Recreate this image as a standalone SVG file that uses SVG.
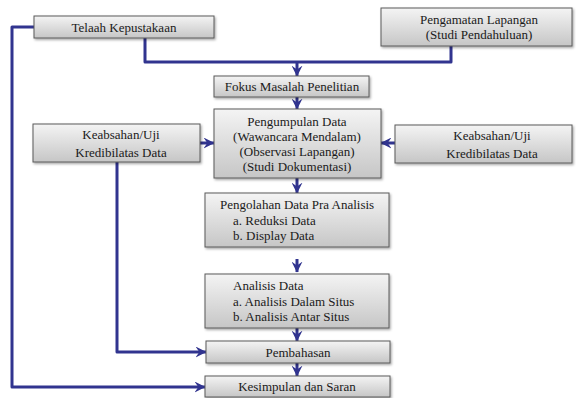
<svg xmlns="http://www.w3.org/2000/svg" width="576" height="398" viewBox="0 0 576 398">
<defs>
<linearGradient id="g" x1="0" y1="0" x2="0" y2="1">
<stop offset="0" stop-color="#f4f4f4"/>
<stop offset="1" stop-color="#c6c6c6"/>
</linearGradient>
<filter id="sh" x="-10%" y="-20%" width="120%" height="150%">
<feDropShadow dx="1.2" dy="1.5" stdDeviation="0.8" flood-color="#000" flood-opacity="0.35"/>
</filter>
<marker id="ah" viewBox="0 0 10 10" markerWidth="11" markerHeight="11" markerUnits="userSpaceOnUse" refX="9.5" refY="5" orient="auto">
<path d="M0,0 L10,5 L0,10 L3.5,5 z" fill="#31348f"/>
</marker>
</defs>
<style>
.box{fill:url(#g);stroke:#5a5a5a;stroke-width:1;filter:url(#sh)}
.t text{font-size:13px;fill:#1a1a1a}
.c{text-anchor:middle}
.ln{fill:none;stroke:#31348f;stroke-width:3;stroke-linejoin:round}
.ar{marker-end:url(#ah)}
</style>
<rect width="576" height="398" fill="#ffffff"/>
<g id="connectors">
<path class="ln" d="M145,38 V62 H451 V46"/>
<path class="ln ar" d="M297,62 V76"/>
<path class="ln ar" d="M297,97 V109"/>
<path class="ln ar" d="M297,178 V193"/>
<path class="ln ar" d="M297,259 V272"/>
<path class="ln ar" d="M297,328 V341"/>
<path class="ln ar" d="M297,363 V376"/>
<path class="ln ar" d="M200,143 H214"/>
<path class="ln ar" d="M395,143 H381"/>
<path class="ln ar" d="M117,162 V352 H206"/>
<path class="ln ar" d="M34,27 H12 V387 H205"/>
</g>
<g class="t" font-family="'Liberation Serif', 'Times New Roman', 'DejaVu Serif', serif">
<g id="telaah">
<rect class="box" x="34" y="16" width="180" height="22"/>
<text class="c" x="124" y="31.5">Telaah Kepustakaan</text>
</g>
<g id="pengamatan">
<rect class="box" x="381" y="8" width="191" height="38"/>
<text class="c" x="479" y="24">Pengamatan Lapangan</text>
<text class="c" x="479" y="39">(Studi Pendahuluan)</text>
</g>
<g id="fokus">
<rect class="box" x="214" y="76" width="155" height="21"/>
<text class="c" x="292" y="91">Fokus Masalah Penelitian</text>
</g>
<g id="pengumpulan">
<rect class="box" x="214" y="109" width="167" height="69"/>
<text class="c" x="297" y="126">Pengumpulan Data</text>
<text class="c" x="297" y="141">(Wawancara Mendalam)</text>
<text class="c" x="297" y="156">(Observasi Lapangan)</text>
<text class="c" x="297" y="171">(Studi Dokumentasi)</text>
</g>
<g id="keabsahan-kiri">
<rect class="box" x="33" y="124" width="167" height="38"/>
<text class="c" x="121" y="139">Keabsahan/Uji</text>
<text class="c" x="121" y="157">Kredibilatas Data</text>
</g>
<g id="keabsahan-kanan">
<rect class="box" x="395" y="125" width="177" height="38"/>
<text class="c" x="492" y="140">Keabsahan/Uji</text>
<text class="c" x="492" y="158">Kredibilatas Data</text>
</g>
<g id="pengolahan">
<rect class="box" x="205" y="193" width="184" height="54"/>
<text x="220" y="209">Pengolahan Data Pra Analisis</text>
<text x="233" y="225">a. Reduksi Data</text>
<text x="233" y="240">b. Display Data</text>
</g>
<g id="analisis">
<rect class="box" x="205" y="274" width="184" height="54"/>
<text x="233" y="290">Analisis Data</text>
<text x="233" y="306">a. Analisis Dalam Situs</text>
<text x="233" y="321">b. Analisis Antar Situs</text>
</g>
<g id="pembahasan">
<rect class="box" x="206" y="341" width="184" height="22"/>
<text class="c" x="298" y="356.5">Pembahasan</text>
</g>
<g id="kesimpulan">
<rect class="box" x="205" y="376" width="185" height="21"/>
<text class="c" x="297" y="391">Kesimpulan dan Saran</text>
</g>
</g>
</svg>
